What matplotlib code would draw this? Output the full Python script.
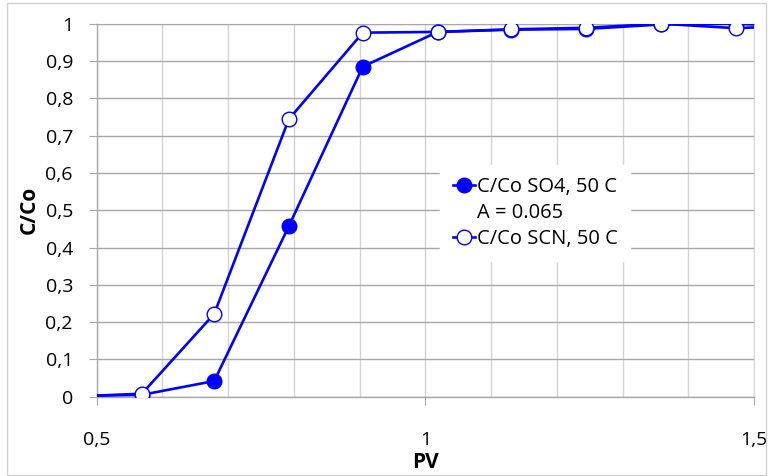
import matplotlib
matplotlib.use("Agg")
import matplotlib.pyplot as plt
from matplotlib.lines import Line2D
from matplotlib.patches import Rectangle
from matplotlib.ticker import FuncFormatter, MultipleLocator

plt.rcParams['font.family'] = ['Open Sans', 'DejaVu Sans']

# Data (first/last points lie on the axis limits and carry no marker)
pv = [0.5, 0.569, 0.679, 0.7925, 0.905, 1.019, 1.131, 1.245, 1.359, 1.472, 1.5]
so4 = [0.003, 0.005, 0.042, 0.457, 0.885, 0.978, 0.984, 0.986, 0.998, 1.0, 0.998]
scn = [0.003, 0.008, 0.222, 0.744, 0.976, 0.978, 0.985, 0.989, 1.0, 0.988, 0.99]
label_so4 = "C/Co SO4, 50 C"
label_scn = "C/Co SCN, 50 C"
label_a = "A = 0.065"
x_label = "PV"
y_label = "C/Co"

blue = "#0000FF"
fig = plt.figure(figsize=(7.69, 4.76), dpi=100)
ax = fig.add_axes([0.1255, 0.1666, 0.855, 0.7836])

mk = slice(1, -1)
ax.plot(pv, so4, color=blue, lw=1.9, marker='o', ms=10.5, mfc=blue, mec=blue,
        markevery=mk, zorder=3)
ax.plot(pv, scn, color=blue, lw=1.9, marker='o', ms=10.5, mfc='white', mec=blue,
        mew=1.0, markevery=mk, zorder=4)

ax.set_xlim(0.5, 1.5)
ax.set_ylim(0, 1)
ax.xaxis.set_major_locator(MultipleLocator(0.5))
ax.xaxis.set_minor_locator(MultipleLocator(0.1))
ax.yaxis.set_major_locator(MultipleLocator(0.1))

fmt = FuncFormatter(lambda v, p: ("%g" % round(v, 2)).replace('.', ','))
ax.xaxis.set_major_formatter(fmt)
ax.yaxis.set_major_formatter(fmt)

ax.grid(True, axis='y', which='major', color='#a8a8a8', lw=1.0)
ax.grid(True, axis='x', which='both', color='#d4d4d4', lw=1.0)
ax.set_axisbelow(True)

for s in ['left', 'bottom']:
    ax.spines[s].set_color('#a8a8a8')
    ax.spines[s].set_linewidth(1.0)
ax.spines['top'].set_color('#a8a8a8')
ax.spines['right'].set_color('#d4d4d4')

ax.tick_params(axis='y', which='major', length=6, color='#a8a8a8', pad=11, labelsize=14)
ax.tick_params(axis='x', which='major', length=6, color='#a8a8a8', pad=19, labelsize=14)
ax.tick_params(axis='x', which='minor', length=0)

ax.set_xlabel(x_label, fontsize=15, fontweight='bold', labelpad=2)
ax.set_ylabel(y_label, fontsize=15, fontweight='bold', labelpad=4)

h1 = Line2D([], [], color=blue, lw=1.9, marker='o', ms=10.5, mfc=blue, mec=blue)
h2 = Line2D([], [], color=blue, lw=1.9, marker='o', ms=10.5, mfc='white', mec=blue, mew=1.0)
h0 = Line2D([], [], color='none', lw=0)
leg = ax.legend([h1, h0, h2], [label_so4, label_a, label_scn],
                loc='center', bbox_to_anchor=(0.667, 0.4925), frameon=True,
                fancybox=False, edgecolor='white', facecolor='white', framealpha=1,
                fontsize=14.5, handlelength=1.1, handletextpad=0.1,
                labelspacing=0.3, borderpad=0.6, markerscale=1.0)
leg.set_zorder(5)

fig.patches.append(Rectangle((0.009, 0.002), 0.987, 0.992, transform=fig.transFigure,
                             fill=False, edgecolor='#d0d0d0', lw=1.0))

fig.savefig("out.png", dpi=100)
